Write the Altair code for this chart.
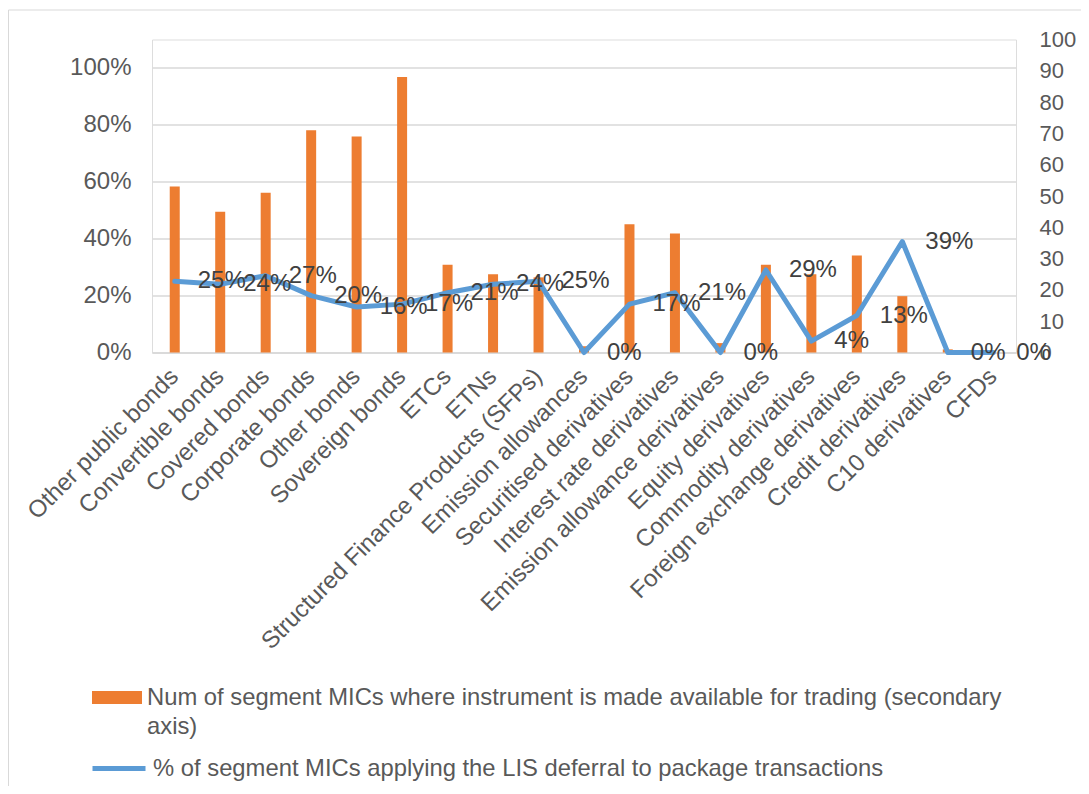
import json
import altair as alt
import pandas as pd

# ---------------- data ----------------
categories = [
    "Other public bonds", "Convertible bonds", "Covered bonds", "Corporate bonds",
    "Other bonds", "Sovereign bonds", "ETCs", "ETNs",
    "Structured Finance Products (SFPs)", "Emission allowances",
    "Securitised derivatives", "Interest rate derivatives",
    "Emission allowance derivatives", "Equity derivatives",
    "Commodity derivatives", "Foreign exchange derivatives",
    "Credit derivatives", "C10 derivatives", "CFDs",
]
num_mics = [53, 45, 51, 71, 69, 88, 28, 25, 24, 2, 41, 38, 3, 28, 25, 31, 18, 1, 0]
pct_lis = [0.25, 0.24, 0.27, 0.20, 0.16, 0.17, 0.21, 0.24, 0.25, 0.0,
           0.17, 0.21, 0.0, 0.29, 0.04, 0.13, 0.39, 0.0, 0.0]

bar_series_lines = [
    "Num of segment MICs where instrument is made available for trading (secondary",
    "axis)",
]
bar_series = " ".join(bar_series_lines)
line_series = "% of segment MICs applying the LIS deferral to package transactions"

pct_ticks = [0, 0.2, 0.4, 0.6, 0.8, 1.0]
count_ticks = [0, 10, 20, 30, 40, 50, 60, 70, 80, 90, 100]

df = pd.DataFrame({
    "category": categories,
    "num": num_mics,
    "pct": pct_lis,
    "bar_series": bar_series,
    "line_series": line_series,
})

FONT = "Liberation Sans"
AXIS_GREY = "#595959"
GRID = "#d9d9d9"
ORANGE = "#ED7D31"
BLUE = "#5B9BD5"
W, H = 864, 313

x_enc = alt.X(
    "category:N", sort=categories,
    scale=alt.Scale(paddingInner=0, paddingOuter=0),
    axis=alt.Axis(
        title=None, labelAngle=-45, labelAlign="right", labelBaseline="middle",
        labelFontSize=24, labelColor=AXIS_GREY, labelPadding=20, labelLimit=600,
        labelOverlap=False, ticks=False, domainColor=GRID, domainWidth=1.3,
        labelFont=FONT,
    ),
)

bars = alt.Chart(df).mark_bar(size=10).encode(
    x=x_enc,
    y=alt.Y(
        "num:Q", scale=alt.Scale(domain=[0, 100], nice=False, zero=True),
        axis=alt.Axis(
            orient="right", values=count_ticks, title=None, grid=False,
            domain=False, ticks=False, labelFontSize=22, labelColor=AXIS_GREY,
            labelPadding=23, labelFont=FONT,
        ),
    ),
    color=alt.Color(
        "bar_series:N", scale=alt.Scale(range=[ORANGE]),
        legend=alt.Legend(
            title=None, orient="none", legendX=-60, legendY=633, padding=0,
            symbolType="M-1,-0.26H1V0.26H-1Z", symbolSize=2500,
            symbolStrokeWidth=0, labelFontSize=23.8, labelColor=AXIS_GREY,
            labelFont=FONT, labelOffset=5, labelLimit=2000,
            labelExpr="datum.label == %s ? %s : datum.label" % (
                json.dumps(bar_series), json.dumps(bar_series_lines)),
        ),
    ),
)

base = alt.Chart(df).encode(
    x=x_enc,
    y=alt.Y(
        "pct:Q", scale=alt.Scale(domain=[0, 1.1], nice=False, zero=True),
        axis=alt.Axis(
            orient="left", values=pct_ticks, format=".0%", title=None,
            grid=True, gridColor=GRID, gridWidth=1.3, domain=False, ticks=False,
            labelFontSize=24, labelColor=AXIS_GREY, labelPadding=21,
            labelFont=FONT,
        ),
    ),
)

line = base.mark_line(strokeWidth=5, strokeJoin="round", strokeCap="round").encode(
    stroke=alt.Stroke(
        "line_series:N", scale=alt.Scale(range=[BLUE]),
        legend=alt.Legend(
            title=None, orient="none", legendX=-62, legendY=700, padding=0,
            symbolType="stroke", symbolSize=2809, symbolStrokeWidth=5,
            labelFontSize=23.8, labelColor=AXIS_GREY, labelFont=FONT,
            labelOffset=5, labelLimit=2000,
        ),
    ),
)

labels = base.mark_text(
    align="left", baseline="middle", dx=23, fontSize=24, color="#404040", font=FONT,
).encode(text=alt.Text("pct:Q", format=".0%"))

border = alt.Chart(alt.Data(values=[{}])).mark_rule(color=GRID, strokeWidth=1).encode(
    x=alt.value(-143.5), x2=alt.value(W + 70), y=alt.value(-29.5), y2=alt.value(-29.5),
)
border_left = alt.Chart(alt.Data(values=[{}])).mark_rule(color=GRID, strokeWidth=1).encode(
    x=alt.value(-143.5), x2=alt.value(-143.5), y=alt.value(-29.5), y2=alt.value(H + 440),
)

chart = alt.layer(
    bars, alt.layer(line, labels), border, border_left,
).resolve_scale(y="independent", color="independent", stroke="independent").properties(
    width=W, height=H,
    autosize=alt.AutoSizeParams(type="none"),
    padding={"left": 144, "top": 31.5, "right": 65, "bottom": 433},
).configure_view(stroke=None).configure(
    font=FONT, style={"guide-label": {"lineHeight": 29}},
)

chart.save("out.html", embed_options={"renderer": "svg", "actions": False})
